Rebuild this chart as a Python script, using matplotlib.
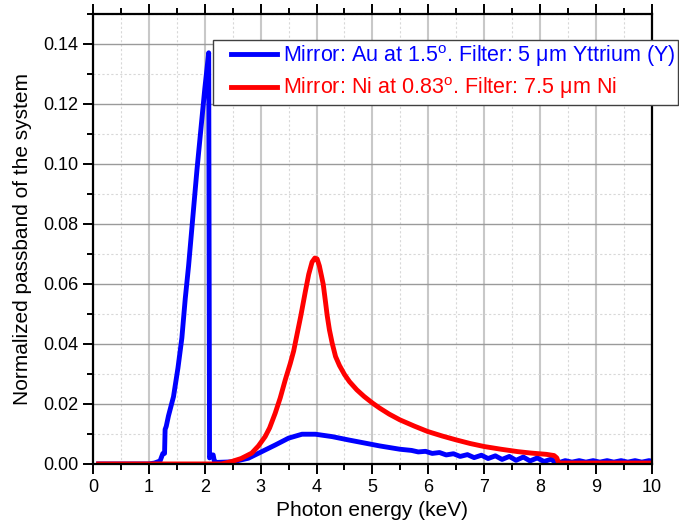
import matplotlib
matplotlib.use("Agg")
import matplotlib.pyplot as plt
from matplotlib.ticker import MultipleLocator
from matplotlib.legend_handler import HandlerLine2D
from matplotlib.lines import Line2D

plt.rcParams["font.family"] = ["Liberation Sans", "DejaVu Sans"]
plt.rcParams["mathtext.fontset"] = "custom"
plt.rcParams["mathtext.rm"] = "Liberation Sans"

# Au mirror at 1.5 deg + 5 um Y filter
au_energy = [0.1, 1.0, 1.1, 1.2, 1.25, 1.28, 1.29, 1.31, 1.35, 1.44, 1.52, 1.59,
             1.65, 1.71, 1.86, 2.0, 2.07, 2.085, 2.10, 2.12, 2.15, 2.17, 2.2,
             2.5, 2.78, 3.02, 3.26, 3.50, 3.74, 3.98, 4.28, 4.57, 5.13, 5.49,
             5.70, 5.82, 5.95, 6.07, 6.20, 6.32, 6.45, 6.57, 6.70, 6.82, 6.95,
             7.07, 7.20, 7.32, 7.45, 7.57, 7.70, 7.82, 7.95, 8.07, 8.20, 8.30,
             8.35, 8.45, 8.57, 8.70, 8.82, 8.95, 9.07, 9.20, 9.32, 9.45, 9.57,
             9.70, 9.82, 9.95, 10.0]
au_pass = [0.0, 0.0, 0.0003, 0.001, 0.0035, 0.0035, 0.0115, 0.0125, 0.016, 0.0224,
           0.032, 0.042, 0.055, 0.066, 0.098, 0.125, 0.137, 0.002, 0.0025, 0.003,
           0.003, 0.001, 0.0005, 0.0007, 0.0019, 0.0041, 0.0063, 0.0086, 0.0099,
           0.0099, 0.0091, 0.008, 0.006, 0.0049,
           0.0045, 0.0040, 0.0042, 0.0035, 0.0038, 0.0030, 0.0034, 0.0025, 0.0031,
           0.0021, 0.0029, 0.0018, 0.0027, 0.0015, 0.0025, 0.0012, 0.0023, 0.0010,
           0.0020, 0.0008, 0.0016, 0.0001, 0.0005, 0.0011, 0.0006, 0.0011, 0.0006,
           0.0011, 0.0006, 0.0011, 0.0006, 0.0011, 0.0006, 0.0011, 0.0006, 0.0011,
           0.0009]

# Ni mirror at 0.83 deg + 7.5 um Ni filter
ni_energy = [0.1, 2.3, 2.48, 2.65, 2.84, 2.96, 3.08, 3.16, 3.26, 3.35, 3.44, 3.53,
             3.59, 3.72, 3.80, 3.86, 3.92, 3.97, 4.01, 4.05, 4.09, 4.12, 4.16,
             4.19, 4.23, 4.28, 4.34, 4.41, 4.50, 4.59, 4.72, 4.85, 5.0, 5.13,
             5.3, 5.49, 5.75, 5.99, 6.25, 6.5, 6.75, 7.0, 7.3, 7.6, 7.85, 8.11,
             8.25, 8.30, 8.33, 10.0]
ni_pass = [0.0, 0.0, 0.0008, 0.0018, 0.0036, 0.006, 0.0091, 0.012, 0.0169, 0.022,
           0.028, 0.0335, 0.0376, 0.0495, 0.0575, 0.0632, 0.0673, 0.0686, 0.0683,
           0.066, 0.0625, 0.0598, 0.054, 0.0495, 0.0447, 0.0402, 0.0358, 0.0328,
           0.0298, 0.0274, 0.0247, 0.0225, 0.0203, 0.0186, 0.0166, 0.0147, 0.0126,
           0.0108, 0.0093, 0.008, 0.0068, 0.0058, 0.0049, 0.0041, 0.0036, 0.0032,
           0.0028, 0.0020, 0.0003, 0.0003]

au_label = r"Mirror: Au at 1.5$^{\mathrm{o}}$. Filter: 5 μm Yttrium (Y)"
ni_label = r"Mirror: Ni at 0.83$^{\mathrm{o}}$. Filter: 7.5 μm Ni"


class ShiftedLine(HandlerLine2D):
    # leave a gap on the left of the legend line, like the original
    def create_artists(self, legend, orig_handle, xdescent, ydescent,
                       width, height, fontsize, trans):
        s = 10.3
        return super().create_artists(legend, orig_handle, xdescent - s,
                                      ydescent, width - s, height, fontsize, trans)


fig = plt.figure(figsize=(6.79, 5.29), dpi=100)
ax = fig.add_axes([0.137, 0.123, 0.823, 0.851])

ax.plot(au_energy, au_pass, color="#0000ff", lw=3.5, label=au_label)
ax.plot(ni_energy, ni_pass, color="#ff0000", lw=3.5, label=ni_label)

ax.set_xlim(0, 10)
ax.set_ylim(0, 0.15)
ax.xaxis.set_major_locator(MultipleLocator(1))
ax.xaxis.set_minor_locator(MultipleLocator(0.5))
ax.yaxis.set_major_locator(MultipleLocator(0.02))
ax.yaxis.set_minor_locator(MultipleLocator(0.01))
ax.yaxis.set_major_formatter(lambda v, p: f"{v:.2f}")

ax.grid(True, which="major", axis="x", color="#c8c8c8", lw=1.5)
ax.grid(True, which="major", axis="y", color="#9a9a9a", lw=1.0)
ax.grid(True, which="minor", color="#d8d8d8", lw=0.8, ls=(0, (2, 2)))
ax.set_axisbelow(True)

for s in ax.spines.values():
    s.set_linewidth(1.6)
ax.tick_params(which="both", direction="out", width=1.4, labelsize=13,
               top=True, right=False)
ax.tick_params(which="major", length=7)
ax.tick_params(which="minor", length=4)

ax.set_xlabel("Photon energy (keV)", fontsize=15, labelpad=4)
ax.set_ylabel("Normalized passband of the system", fontsize=15, labelpad=8)

leg = ax.legend(loc="upper left", bbox_to_anchor=(0.3137, 0.9244),
                bbox_transform=fig.transFigure, fontsize=15.5, frameon=True,
                fancybox=False, framealpha=1, edgecolor="#404040",
                handlelength=2.8, handletextpad=0.28, borderpad=0.15,
                labelspacing=0.3, borderaxespad=0,
                handler_map={Line2D: ShiftedLine()})
leg.get_frame().set_linewidth(1.0)
for t, c in zip(leg.get_texts(), ["#0000ff", "#ff0000"]):
    t.set_color(c)

fig.savefig("out.png", dpi=100)
